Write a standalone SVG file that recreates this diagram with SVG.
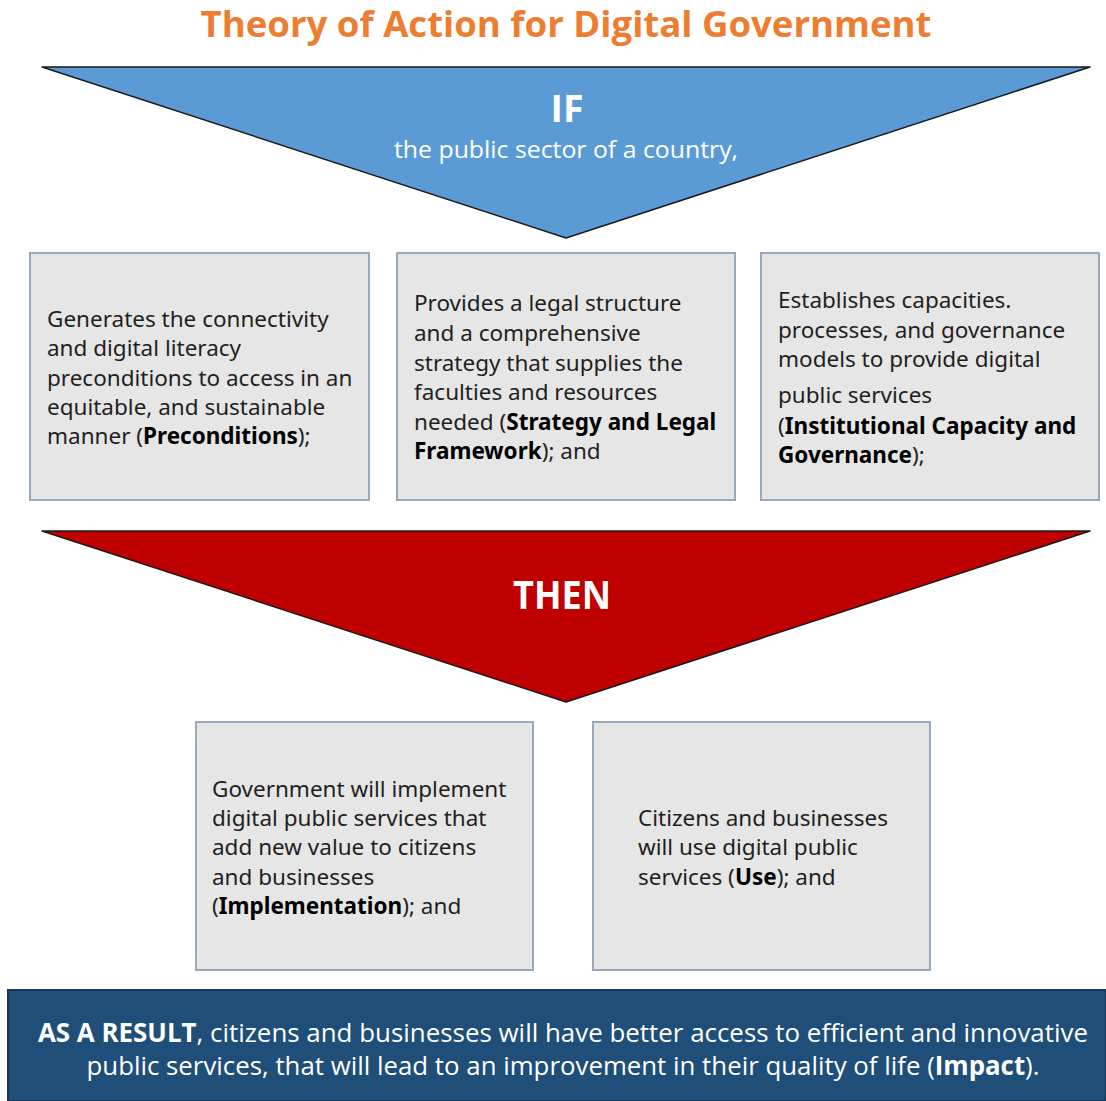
<svg xmlns="http://www.w3.org/2000/svg" width="1106" height="1101" viewBox="0 0 1106 1101">
  <style>
    .heading { font-family: "Open Sans", "Noto Sans", sans-serif; font-weight: 700; }
    .box { fill: #e6e6e6; stroke: #97a9ba; stroke-width: 2; }
    .body { font-family: "Noto Sans", "Open Sans", sans-serif; font-size: 22.5px; fill: #1f1f1f; }
    .b { font-weight: 700; fill: #000; }
    .band { font-family: "Open Sans", "Noto Sans", sans-serif; font-size: 26px; fill: #ffffff; }
  </style>

  <rect width="1106" height="1101" fill="#ffffff"/>

  <!-- title -->
  <text id="title" class="heading" x="566" y="37" text-anchor="middle" font-size="35" fill="#ed7d31" textLength="731" lengthAdjust="spacingAndGlyphs">Theory of Action for Digital Government</text>

  <!-- IF funnel -->
  <g id="if-funnel">
    <polygon points="42,67 1090,67 566,238" fill="#5b9bd5" stroke="#1a1a1a" stroke-width="1.5" stroke-linejoin="round"/>
    <text class="heading" x="567" y="122" text-anchor="middle" font-size="37" fill="#ffffff" textLength="33" lengthAdjust="spacingAndGlyphs">IF</text>
    <text x="566" y="158" text-anchor="middle" font-family="Open Sans, Noto Sans, sans-serif" font-size="24" fill="#ffffff" textLength="344" lengthAdjust="spacingAndGlyphs">the public sector of a country,</text>
  </g>

  <!-- IF conditions -->
  <g id="preconditions">
    <rect class="box" x="30" y="253" width="339" height="247"/>
    <text class="body">
      <tspan x="47" y="327">Generates the connectivity</tspan>
      <tspan x="47" y="356">and digital literacy</tspan>
      <tspan x="47" y="386">preconditions to access in an</tspan>
      <tspan x="47" y="415">equitable, and sustainable</tspan>
      <tspan x="47" y="444">manner (<tspan class="b">Preconditions</tspan>);</tspan>
    </text>
  </g>

  <g id="strategy-legal">
    <rect class="box" x="397" y="253" width="338" height="247"/>
    <text class="body">
      <tspan x="414" y="311">Provides a legal structure</tspan>
      <tspan x="414" y="341">and a comprehensive</tspan>
      <tspan x="414" y="371">strategy that supplies the</tspan>
      <tspan x="414" y="400">faculties and resources</tspan>
      <tspan x="414" y="430">needed (<tspan class="b">Strategy and Legal</tspan></tspan>
      <tspan x="414" y="459"><tspan class="b">Framework</tspan>); and</tspan>
    </text>
  </g>

  <g id="institutional-capacity">
    <rect class="box" x="761" y="253" width="338" height="247"/>
    <text class="body">
      <tspan x="778" y="308">Establishes capacities.</tspan>
      <tspan x="778" y="338">processes, and governance</tspan>
      <tspan x="778" y="367">models to provide digital</tspan>
      <tspan x="778" y="403">public services</tspan>
      <tspan x="778" y="434">(<tspan class="b">Institutional Capacity and</tspan></tspan>
      <tspan x="778" y="463"><tspan class="b">Governance</tspan>);</tspan>
    </text>
  </g>

  <!-- THEN funnel -->
  <g id="then-funnel">
    <polygon points="42,531 1090,531 566,702" fill="#c00000" stroke="#1a1a1a" stroke-width="1.5" stroke-linejoin="round"/>
    <text class="heading" x="562" y="609" text-anchor="middle" font-size="40" fill="#ffffff" textLength="98" lengthAdjust="spacingAndGlyphs">THEN</text>
  </g>

  <!-- THEN outcomes -->
  <g id="implementation">
    <rect class="box" x="196" y="722" width="337" height="248"/>
    <text class="body">
      <tspan x="212" y="797">Government will implement</tspan>
      <tspan x="212" y="826">digital public services that</tspan>
      <tspan x="212" y="855">add new value to citizens</tspan>
      <tspan x="212" y="885">and businesses</tspan>
      <tspan x="212" y="914">(<tspan class="b">Implementation</tspan>); and</tspan>
    </text>
  </g>

  <g id="use">
    <rect class="box" x="593" y="722" width="337" height="248"/>
    <text class="body">
      <tspan x="638" y="826">Citizens and businesses</tspan>
      <tspan x="638" y="855">will use digital public</tspan>
      <tspan x="638" y="885">services (<tspan class="b">Use</tspan>); and</tspan>
    </text>
  </g>

  <!-- result band -->
  <g id="impact">
    <rect x="8" y="990" width="1098" height="111" fill="#1f4e79" stroke="#17375a" stroke-width="2"/>
    <text class="band" x="563" y="1042" text-anchor="middle" textLength="1050" lengthAdjust="spacingAndGlyphs"><tspan font-weight="700">AS A RESULT</tspan>, citizens and businesses will have better access to efficient and innovative</text>
    <text class="band" x="563" y="1075" text-anchor="middle" textLength="953" lengthAdjust="spacingAndGlyphs">public services, that will lead to an improvement in their quality of life (<tspan font-weight="700">Impact</tspan>).</text>
  </g>

  <!-- connectors: the funnels and boxes abut directly, no separate links -->
  <g id="connectors"/>
</svg>
